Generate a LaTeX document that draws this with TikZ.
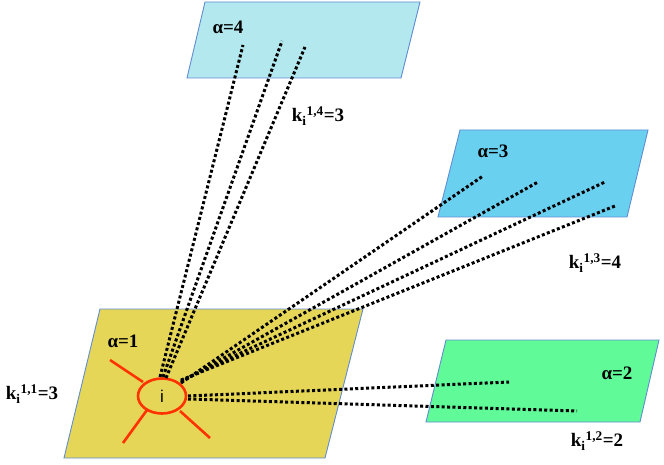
\documentclass[tikz,border=0pt]{standalone}
\usepackage{fontspec}
\setmainfont{Liberation Serif}
\setsansfont{Liberation Sans}
\usetikzlibrary{shapes.geometric}
\definecolor{pfour}{RGB}{178,232,238}
\definecolor{pthree}{RGB}{106,208,240}
\definecolor{pone}{RGB}{230,214,88}
\definecolor{ptwo}{RGB}{96,250,152}
\definecolor{pedge}{RGB}{96,140,210}
\definecolor{ired}{RGB}{255,50,0}
\tikzset{
  plane/.style={draw=pedge, line width=0.9pt},
  link/.style={line width=3pt, dash pattern=on 3pt off 2.4pt, black},
  ray/.style={ired, line width=2.6pt},
  lbl/.style={font=\fontsize{19}{21}\selectfont\bfseries, inner sep=0pt},
}
\begin{document}
\begin{tikzpicture}[x=1pt,y=-1pt]
\useasboundingbox (0,0) rectangle (664,465);
% planes
\draw[plane, fill=pfour] (205,2) -- (420,2) -- (401,78) -- (187,78) -- cycle;
\draw[plane, fill=pthree] (460,130) -- (648,130) -- (627,217) -- (438,217) -- cycle;
\draw[plane, fill=pone] (100,309) -- (363,309) -- (325,458) -- (64,458) -- cycle;
\draw[plane, fill=ptwo] (446,340) -- (659,340) -- (640,422) -- (426,422) -- cycle;
% labels
\node[lbl] (l4) at (228,27) {α=4};
\node[lbl] (l3) at (493,151) {α=3};
\node[lbl] (l1) at (123,341) {α=1};
\node[lbl] (l2) at (617,373) {α=2};
\node[lbl] (k4) at (318,116) {k\textsubscript{i}\textsuperscript{1,4}=3};
\node[lbl] (k3) at (595,263) {k\textsubscript{i}\textsuperscript{1,3}=4};
\node[lbl] (k1) at (32,394) {k\textsubscript{i}\textsuperscript{1,1}=3};
\node[lbl] (k2) at (597,441) {k\textsubscript{i}\textsuperscript{1,2}=2};
% red rays
\coordinate (r1a) at (110,360); \coordinate (r1b) at (143,382);
\coordinate (r2a) at (123,443); \coordinate (r2b) at (147,410);
\coordinate (r3a) at (210,438); \coordinate (r3b) at (180,411);
\draw[ray] (r1a) -- (r1b);
\draw[ray] (r2a) -- (r2b);
\draw[ray] (r3a) -- (r3b);
% node i
\node[ellipse, draw=ired, line width=2.6pt, fill=pone, minimum width=48pt, minimum height=35pt, inner sep=0pt,
      font=\sffamily\fontsize{17}{19}\selectfont] (i) at (162,396) {i};
% start points
\coordinate (s4a) at (160,377); \coordinate (s4b) at (163,377); \coordinate (s4c) at (166,378);
\coordinate (s3) at (181,383);
\coordinate (s2a) at (188,396); \coordinate (s2b) at (188,399);
% end points
\coordinate (e4a) at (243,45); \coordinate (e4b) at (282,41); \coordinate (e4c) at (305,47);
\coordinate (e3a) at (483,176); \coordinate (e3b) at (538,182); \coordinate (e3c) at (605,182); \coordinate (e3d) at (615,206);
\coordinate (e2a) at (509,382); \coordinate (e2b) at (577,411);
\draw[link] (s4a) -- (e4a);
\draw[link] (s4b) -- (e4b);
\draw[link] (s4c) -- (e4c);
\draw[link] (s3) -- (e3a);
\draw[link] ([yshift=1pt]s3) -- (e3b);
\draw[link] ([yshift=2pt]s3) -- (e3c);
\draw[link] ([yshift=3pt]s3) -- (e3d);
\draw[link] (s2a) -- (e2a);
\draw[link] (s2b) -- (e2b);
\end{tikzpicture}
\end{document}
